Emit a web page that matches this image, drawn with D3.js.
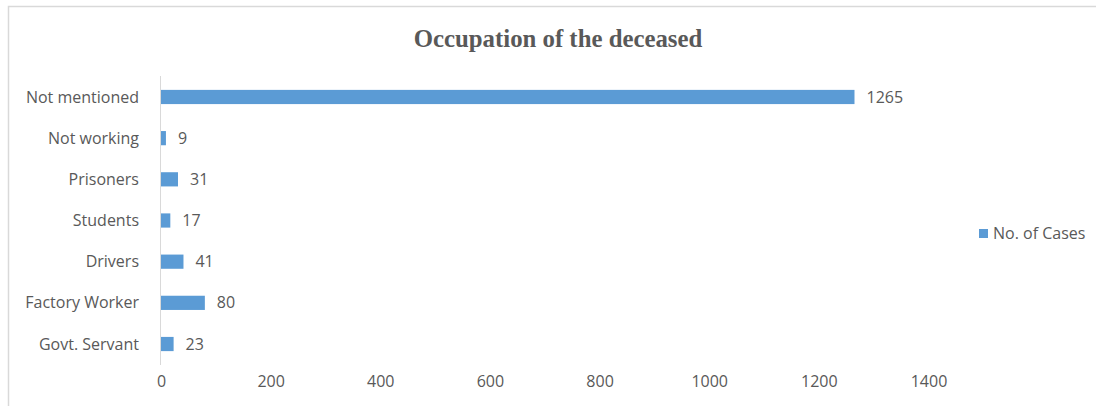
<!DOCTYPE html>
<html><head><meta charset="utf-8">
<script src="https://cdn.jsdelivr.net/npm/d3@7"></script>
<style>body{margin:0;background:#fff}</style>
</head><body>
<svg id="c" width="1096" height="406"></svg>
<script>
const categories = ["Not mentioned","Not working","Prisoners","Students","Drivers","Factory Worker","Govt. Servant"];
const values = [1265, 9, 31, 17, 41, 80, 23];
const xTicks = [0,200,400,600,800,1000,1200,1400];
const seriesName = "No. of Cases";
const title = "Occupation of the deceased";

const svg = d3.select("#c");
const color = "#5b9bd5";
const textColor = "#595959";
const font = "'Open Sans', 'Noto Sans', sans-serif";

// chart border
svg.append("path").attr("d","M8.5,406 V6.5 H1096").attr("fill","none").attr("stroke","#d9d9d9").attr("stroke-width",1.5);

svg.append("text").attr("x",558).attr("y",47).attr("text-anchor","middle")
  .attr("font-family","'Liberation Serif','Times New Roman',serif").attr("font-weight","bold")
  .attr("font-size",24.8).attr("fill",textColor).text(title);

const x = d3.scaleLinear().domain([0,1400]).range([161,928.5]);
const y = d3.scaleBand().domain(categories).range([76.4,364.6]).paddingInner(0.655).paddingOuter(0.3275);

// axis line
svg.append("line").attr("x1",160.5).attr("x2",160.5).attr("y1",76).attr("y2",365).attr("stroke","#d9d9d9").attr("stroke-width",1);

svg.selectAll("rect.bar").data(categories).join("rect").attr("class","bar")
  .attr("x",x(0)).attr("y",d=>y(d)).attr("width",(d,i)=>x(values[i])-x(0)).attr("height",y.bandwidth()).attr("fill",color);

svg.selectAll("text.val").data(categories).join("text").attr("class","val")
  .attr("x",(d,i)=>x(values[i])+12).attr("y",d=>y(d)+y.bandwidth()/2).attr("dy","0.35em")
  .attr("font-family",font).attr("font-size",16).attr("fill",textColor).text((d,i)=>values[i]);

svg.selectAll("text.cat").data(categories).join("text").attr("class","cat")
  .attr("x",139).attr("y",d=>y(d)+y.bandwidth()/2).attr("dy","0.35em").attr("text-anchor","end")
  .attr("font-family",font).attr("font-size",16).attr("fill",textColor).text(d=>d);

const ax = svg.append("g").attr("transform","translate(0,376)")
  .call(d3.axisBottom(x).tickValues(xTicks).tickFormat(d3.format("d")).tickSize(0).tickPadding(0));
ax.select(".domain").remove();
ax.selectAll("text").attr("font-family",font).attr("font-size",16).attr("fill",textColor);

svg.append("rect").attr("x",979).attr("y",229).attr("width",9).attr("height",9).attr("fill",color);
svg.append("text").attr("x",993).attr("y",233.5).attr("dy","0.35em").attr("font-family",font).attr("font-size",16).attr("fill",textColor).text(seriesName);
</script>
</body></html>
